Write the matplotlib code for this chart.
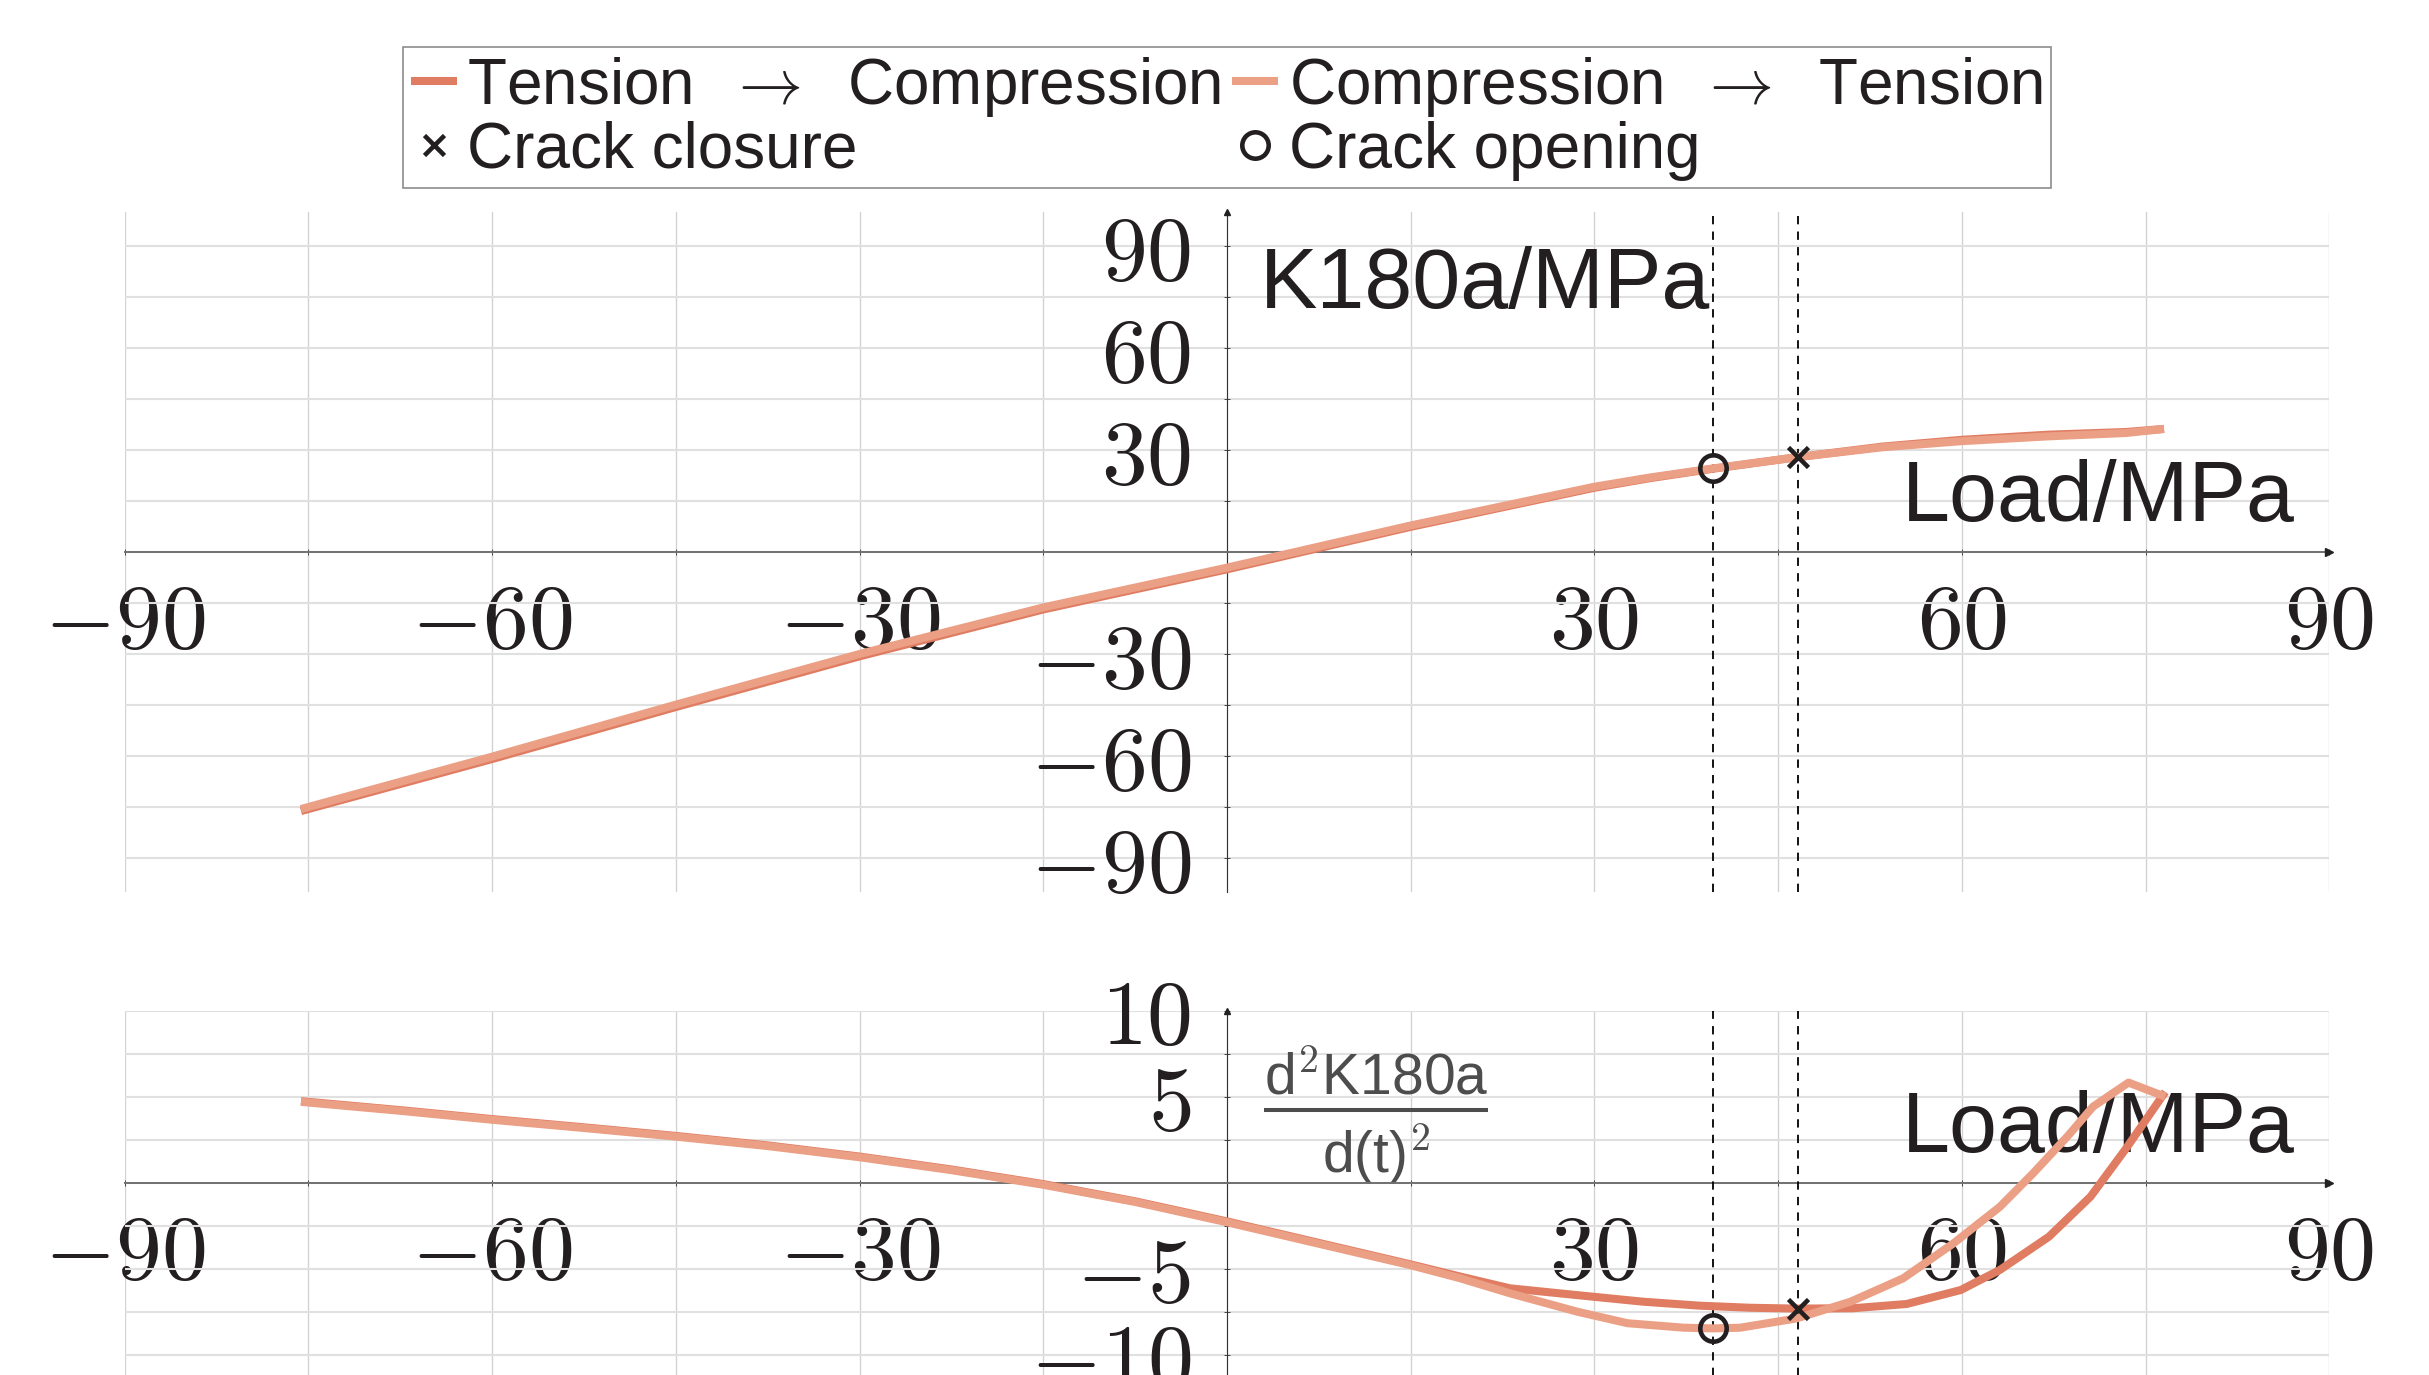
import numpy as np
import matplotlib.pyplot as plt
from matplotlib.ticker import FixedLocator, MultipleLocator

plt.rcParams['font.family'] = ['Liberation Sans', 'DejaVu Sans']
plt.rcParams['mathtext.fontset'] = 'cm'

# ---- data ----
# upper plot: K180a over load
load_top = [-75.6, -60, -45, -30, -15, 0, 15, 30, 34.5, 39.7, 46.6, 53.5, 60, 67, 73.4, 76.5]
k_tc = [-76.2, -60.9, -45.6, -30.7, -16.9, -5.1, 7.4, 18.9, 21.7, 24.5, 27.9, 31.0, 33.0, 34.5, 35.3, 36.2]
k_ct = [-75.6, -60.2, -44.9, -30.0, -16.3, -4.6, 7.8, 19.2, 21.9, 24.6, 27.9, 30.8, 32.6, 34.0, 35.0, 36.2]

# lower plot: second derivative over load
load_tc = [-75.6, -67.5, -60, -52.5, -45, -37.5, -30, -22.5, -15, -7.5, 0, 7.5, 15, 19,
           23.1, 29.9, 34, 38.6, 42.7, 46.5, 51.1, 55.5, 59.9, 63.1, 67.1, 70.5, 73.4, 76.6]
d2k_tc = [4.74, 4.22, 3.7, 3.22, 2.72, 2.17, 1.52, 0.77, -0.08, -1.08, -2.25, -3.5, -4.75, -5.45,
          -6.14, -6.63, -6.92, -7.15, -7.27, -7.32, -7.3, -7.05, -6.24, -5.07, -3.14, -0.81, 1.99, 5.28]
load_ct = [-75.6, -67.5, -60, -52.5, -45, -37.5, -30, -22.5, -15, -7.5, 0, 7.5, 15, 19,
           23.1, 28.6, 32.7, 37.3, 39.7, 41.9, 46.5, 50.9, 55.2, 59.3, 63.1, 65.8, 68.6, 70.7, 73.6, 76.6]
d2k_ct = [4.7, 4.18, 3.66, 3.18, 2.68, 2.13, 1.48, 0.73, -0.12, -1.12, -2.3, -3.55, -4.8, -5.55,
          -6.43, -7.5, -8.17, -8.43, -8.47, -8.43, -7.89, -6.92, -5.56, -3.53, -1.4, 0.54, 2.68, 4.42, 5.82, 5.0]

# crack closure / opening points
closure_load = 46.6
closure_k = 27.9
closure_d2k = -7.32
opening_load = 39.7
opening_k = 24.6
opening_d2k = -8.47

xticks = [-90, -60, -30, 30, 60, 90]
xticklabels = [r'$-90$', r'$-60$', r'$-30$', r'$30$', r'$60$', r'$90$']
yticks_top = [-90, -60, -30, 30, 60, 90]
yticklabels_top = [r'$-90$', r'$-60$', r'$-30$', r'$30$', r'$60$', r'$90$']
yticks_bot = [-10, -5, 5, 10]
yticklabels_bot = [r'$-10$', r'$-5$', r'$5$', r'$10$']

labels = [r'Tension $\;\rightarrow\;$ Compression', 'Crack closure',
          r'Compression $\;\rightarrow\;$ Tension', 'Crack opening']

c_tc = '#e07c62'
c_ct = '#eb9f84'
txt = '#231f20'
W, H = 2429, 1375

fig = plt.figure(figsize=(W / 100, H / 100), dpi=100)
x0, x1 = 124.6, 2329.4
ax_top = fig.add_axes([x0 / W, (H - 892) / H, (x1 - x0) / W, 680 / H])
ax_bot = fig.add_axes([x0 / W, (H - 1389.1) / H, (x1 - x0) / W, 378.4 / H])


def style(ax, ylim, yticks, ylabels, ystep):
    ax.set_xlim(-90, 90)
    ax.set_ylim(*ylim)
    for s in ['top', 'right']:
        ax.spines[s].set_visible(False)
    ax.spines['left'].set_position(('data', 0))
    ax.spines['bottom'].set_position(('data', 0))
    ax.spines['left'].set_color('#333333')
    ax.spines['left'].set_linewidth(0.8)
    ax.spines['bottom'].set_color('#707070')
    ax.spines['bottom'].set_linewidth(1.4)
    ax.xaxis.set_major_locator(FixedLocator(xticks))
    ax.set_xticklabels(xticklabels)
    ax.yaxis.set_major_locator(FixedLocator(yticks))
    ax.set_yticklabels(ylabels)
    ax.xaxis.set_minor_locator(MultipleLocator(15))
    ax.yaxis.set_minor_locator(MultipleLocator(ystep))
    ax.tick_params(which='both', direction='inout', length=4, width=0.7, color='#444444')
    ax.tick_params(axis='x', which='major', labelsize=66, pad=19, labelcolor=txt)
    ax.tick_params(axis='y', which='major', labelsize=66, pad=24, labelcolor=txt)
    ax.grid(True, which='both', axis='x', color='#d2d2d2', lw=0.95)
    ax.grid(True, which='both', axis='y', color='#e0e0e0', lw=1.5)
    ax.set_axisbelow(True)
    ax.plot(1, 0, '>', ms=6, color='#222222', transform=ax.get_yaxis_transform(), clip_on=False, zorder=5)
    ax.plot(0, 1, '^', ms=5, color='#222222', transform=ax.get_xaxis_transform(), clip_on=False, zorder=5)
    ax.axvline(opening_load, color='black', lw=1.3, ls=(0, (4.6, 4.0)), zorder=2.6)
    ax.axvline(closure_load, color='black', lw=1.3, ls=(0, (4.6, 4.0)), zorder=2.6)


style(ax_top, (-100, 100), yticks_top, yticklabels_top, 15)
style(ax_bot, (-12, 10), yticks_bot, yticklabels_bot, 2.5)

lw = 5.8
mk = dict(mew=3.3, zorder=4)
l_tc, = ax_top.plot(load_top, k_tc, color=c_tc, lw=lw, solid_capstyle='butt', zorder=3)
l_ct, = ax_top.plot(load_top, k_ct, color=c_ct, lw=lw, solid_capstyle='butt', zorder=3.1)
m_close, = ax_top.plot(closure_load, closure_k, 'x', ms=14, color=txt, **mk)
m_open, = ax_top.plot(opening_load, opening_k, 'o', ms=19, mfc='none', mec=txt, **mk)

ax_bot.plot(load_tc, d2k_tc, color=c_tc, lw=lw, solid_capstyle='butt', zorder=3)
ax_bot.plot(load_ct, d2k_ct, color=c_ct, lw=lw, solid_capstyle='butt', zorder=3.1)
ax_bot.plot(closure_load, closure_d2k, 'x', ms=14, color=txt, **mk)
ax_bot.plot(opening_load, opening_d2k, 'o', ms=19, mfc='none', mec=txt, **mk)

# axis labels inside the plots
ax_top.text(2.7, 71.7, 'K180a/MPa', fontsize=62, color=txt, ha='left', va='baseline', zorder=1)
ax_top.text(87.2, 9.0, 'Load/MPa', fontsize=62, color=txt, ha='right', va='baseline', zorder=1)
ax_bot.text(87.2, 1.8, 'Load/MPa', fontsize=62, color=txt, ha='right', va='baseline', zorder=1)

gray = '#4d4d4d'
num = ax_bot.text(12.15, 5.1, r'd$^2$K180a', fontsize=41, color=gray, ha='center', va='baseline', zorder=1)
ax_bot.text(12.15, 0.56, r'd(t)$^2$', fontsize=41, color=gray, ha='center', va='baseline', zorder=1)

fig.legend([l_tc, m_close, l_ct, m_open], labels, loc='upper center',
           bbox_to_anchor=(1227 / W, 1 - 47 / H), ncol=2, fontsize=46,
           frameon=True, fancybox=False, edgecolor='#8c8c8c', framealpha=1,
           handlelength=0.72, handletextpad=0.16, columnspacing=0.17,
           borderpad=0.12, labelspacing=0.03, borderaxespad=0, numpoints=1,
           labelcolor=txt).get_frame().set_linewidth(1.2)

# fraction bar under the numerator
fig.canvas.draw()
bb = num.get_window_extent().transformed(ax_bot.transData.inverted())
ax_bot.plot([bb.x0, bb.x1], [4.23, 4.23], color=gray, lw=2.9, solid_capstyle='butt', zorder=1)

fig.savefig('out.png', dpi=100)
